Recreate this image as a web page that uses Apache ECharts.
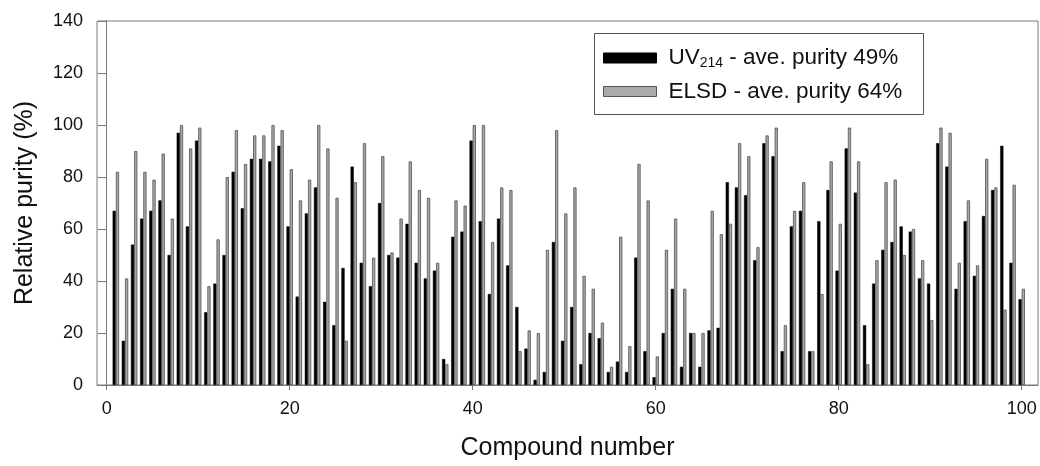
<!DOCTYPE html>
<html>
<head>
<meta charset="utf-8">
<script src="https://cdn.jsdelivr.net/npm/echarts@6/dist/echarts.min.js"></script>
<style>
html,body{margin:0;padding:0;background:#fff;}
#chart{width:1040px;height:466px;}
</style>
</head>
<body>
<div id="chart"></div>
<script>
const compounds = Array.from({length: 100}, (_, i) => i + 1);
const uvValues = [67,17,54,64,67,71,50,97,61,94, 28,39,50,82,68,87,87,86,92,61,
  34,66,76,32,23,45,84,47,38,70, 50,49,62,47,41,44,10,57,59,94,
  63,35,64,46,30,14,2,5,55,17, 30,8,20,18,5,9,5,49,13,3,
  20,37,7,20,7,21,22,78,76,73, 48,93,88,13,61,67,13,63,75,44,
  91,74,23,39,52,55,61,59,41,39, 93,84,37,63,42,65,75,92,47,33];
const elsdValues = [82,41,90,82,79,89,64,100,91,99, 38,56,80,98,85,96,96,100,98,83,
  71,79,100,91,72,17,78,93,49,88, 51,64,86,75,72,47,8,71,69,100,
  100,55,76,75,13,21,20,52,98,66, 76,42,37,24,7,57,15,85,71,11,
  52,64,37,20,20,67,58,62,93,88, 53,96,99,23,67,78,13,35,86,62,
  99,86,8,48,78,79,50,60,48,25, 99,97,47,71,46,87,76,29,77,37];
const xTicks = [0,20,40,60,80,100];
const yTicks = [0,20,40,60,80,100,120,140];
const seriesNames = ['UV214 - ave. purity 49%', 'ELSD - ave. purity 64%'];

const chart = echarts.init(document.getElementById('chart'));
const font = '"Liberation Sans", Arial, sans-serif';
const axisGray = '#7a7a7a';

chart.setOption({
  animation: false,
  backgroundColor: '#fff',
  grid: {left: 97, top: 21, right: 2, bottom: 78, show: true, borderColor: axisGray, borderWidth: 1},
  xAxis: {
    type: 'value', min: -1.06, max: 101.78,
    name: 'Compound number', nameLocation: 'middle', nameGap: 51,
    nameTextStyle: {fontFamily: font, fontSize: 25, color: '#111'},
    axisLine: {show: true, lineStyle: {color: axisGray}},
    axisTick: {show: true, length: 5, inside: false, customValues: xTicks, lineStyle: {color: axisGray}},
    axisLabel: {customValues: xTicks, fontFamily: font, fontSize: 18, color: '#111', margin: 15},
    splitLine: {show: false}
  },
  yAxis: {
    type: 'value', min: 0, max: 140, interval: 20,
    name: 'Relative purity (%)', nameLocation: 'middle', nameGap: 59, nameRotate: 90,
    nameTextStyle: {fontFamily: font, fontSize: 25, color: '#111'},
    axisLine: {show: true, lineStyle: {color: axisGray}},
    axisTick: {show: true, length: 9, lineStyle: {color: axisGray}},
    axisLabel: {fontFamily: font, fontSize: 18, color: '#111', margin: 14},
    splitLine: {show: false}
  },
  legend: {
    orient: 'vertical', left: 603, top: 46, padding: 0, itemGap: 10,
    itemWidth: 53, itemHeight: 10,
    data: [
      {name: seriesNames[0], icon: 'rect', itemStyle: {color: '#000', borderColor: '#000', borderWidth: 1}},
      {name: seriesNames[1], icon: 'rect', itemStyle: {color: '#aaaaaa', borderColor: '#555', borderWidth: 1}}
    ],
    formatter: function (n) {
      return n === seriesNames[0] ? '{t|UV}{s|214}{t| - ave. purity 49%}' : '{t|ELSD - ave. purity 64%}';
    },
    textStyle: {
      padding: [0, 0, 0, 7],
      rich: {
        t: {fontFamily: font, fontSize: 22.5, color: '#111', lineHeight: 24},
        s: {fontFamily: font, fontSize: 14, color: '#111', verticalAlign: 'bottom', lineHeight: 24, padding: [10, 0, 0, 0]}
      }
    }
  },
  graphic: [{
    type: 'rect', left: 592, top: 31, z: 100, silent: true,
    shape: {width: 329, height: 81},
    style: {fill: 'none', stroke: '#555', lineWidth: 1}
  }],
  series: [
    {
      name: seriesNames[0], type: 'bar', barWidth: 3.2, barGap: '0%',
      itemStyle: {color: '#000', borderColor: '#000', borderWidth: 0.5},
      data: compounds.map((c, i) => [c, uvValues[i]])
    },
    {
      name: seriesNames[1], type: 'bar', barWidth: 3.2, barGap: '0%',
      itemStyle: {color: '#a8a8a8', borderColor: '#505050', borderWidth: 0.8},
      data: compounds.map((c, i) => [c, elsdValues[i]])
    }
  ]
});
</script>
</body>
</html>
